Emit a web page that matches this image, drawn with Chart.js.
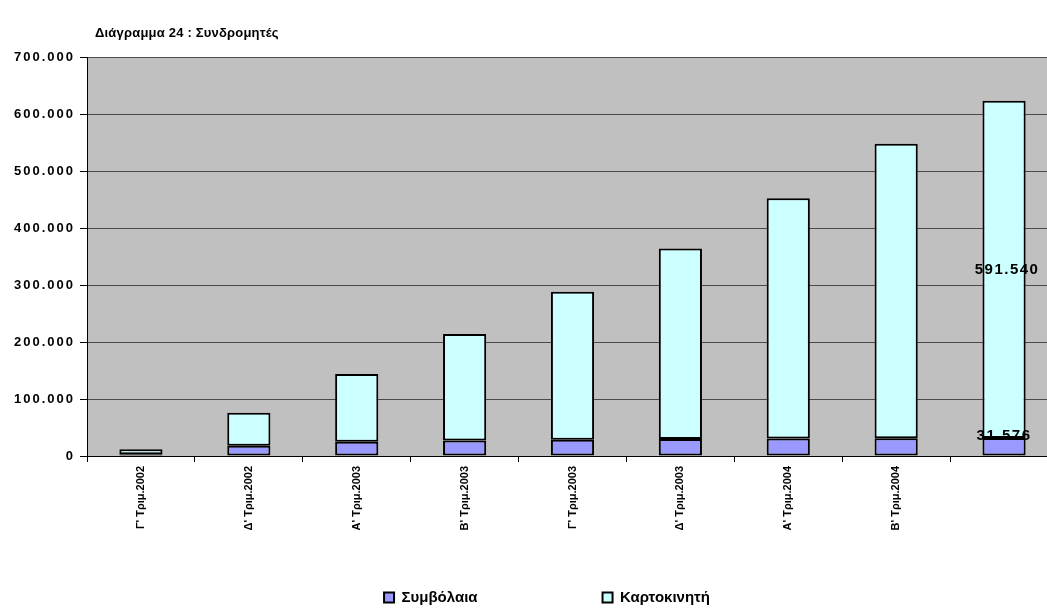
<!DOCTYPE html>
<html lang="el">
<head>
<meta charset="utf-8">
<title>Διάγραμμα 24 : Συνδρομητές</title>
<script src="https://cdn.jsdelivr.net/npm/chart.js@4.4.1/dist/chart.umd.min.js"></script>
<style>
    html, body { margin: 0; padding: 0; background: #fff; overflow: hidden; }
    #wrap { width: 1047px; height: 609px; overflow: hidden; position: relative; }
    #chart { display: block; }
</style>
</head>
<body>
<div id="wrap"><canvas id="chart" width="1062" height="609"></canvas></div>
<script>
/* Διάγραμμα 24 — Συνδρομητές ανά τρίμηνο */
/* global Chart */

var TITLE = 'Διάγραμμα 24 : Συνδρομητές';

var QUARTERS = [
    "Γ' Τριμ.2002", "Δ' Τριμ.2002", "Α' Τριμ.2003", "Β' Τριμ.2003",
    "Γ' Τριμ.2003", "Δ' Τριμ.2003", "Α' Τριμ.2004", "Β' Τριμ.2004", ''
];

// Συμβόλαια (contract) and Καρτοκινητή (prepaid) subscribers
var SYMVOLAIA   = [3000, 18000, 25000, 27000, 28500, 30000, 30500, 31000, 31576];
var KARTOKINITI = [9000, 58000, 119000, 187000, 259500, 334000, 421500, 517000, 591540];

var Y_TICKS = [0, 100000, 200000, 300000, 400000, 500000, 600000, 700000];

(function () {
    'use strict';

    var FONT = "'Liberation Sans', Arial, sans-serif";
    var LEGEND_CX = 547;   // centre of the legend row
    var LEGEND_Y  = 590;   // top of the legend items

    // 700000 -> '700.000'
    function fmt(v) {
        return String(v).replace(/\B(?=(\d{3})+(?!\d))/g, '.');
    }

    // =========================================================
    // Plugins
    // =========================================================
    var plotBackground = {
        id: 'plotBackground',
        beforeDraw: function (chart) {
            var a = chart.chartArea, ctx = chart.ctx;
            ctx.save();
            ctx.fillStyle = '#c0c0c0';
            ctx.fillRect(a.left, a.top, a.right - a.left, a.bottom - a.top);
            ctx.restore();
        }
    };

    // y labels (ticks.z = 1) are drawn after the datasets: space them out a bit
    var tickSpacing = {
        id: 'tickSpacing',
        afterDatasetsDraw: function (chart) {
            chart.ctx.letterSpacing = '2px';
        },
        afterDraw: function (chart) {
            chart.ctx.letterSpacing = '0px';
        }
    };

    var titleText = {
        id: 'titleText',
        afterDraw: function (chart) {
            var ctx = chart.ctx;
            ctx.save();
            ctx.font = 'bold 13px ' + FONT;
            ctx.letterSpacing = '0.2px';
            ctx.fillStyle = '#000';
            ctx.textAlign = 'left';
            ctx.textBaseline = 'alphabetic';
            ctx.fillText(TITLE, 95, 37);
            ctx.restore();
        }
    };

    // the legend takes no room in the layout; move it under the axis labels
    var legendPlacement = {
        id: 'legendPlacement',
        afterLayout: function (chart) {
            var lg = chart.legend;
            var dx = LEGEND_CX - (lg.left + lg.right) / 2;
            lg.left += dx;
            lg.right += dx;
            lg.top = LEGEND_Y - lg.options.labels.padding;
            lg.bottom = chart.height;
        }
    };

    // value labels on the last quarter only
    var lastLabels = {
        id: 'lastLabels',
        afterDatasetsDraw: function (chart) {
            var ctx = chart.ctx;
            var i = QUARTERS.length - 1;
            var barS = chart.getDatasetMeta(0).data[i];
            var barK = chart.getDatasetMeta(1).data[i];
            ctx.save();
            ctx.font = 'bold 15px ' + FONT;
            ctx.letterSpacing = '1.5px';
            ctx.fillStyle = '#000';
            ctx.textAlign = 'center';

            ctx.textBaseline = 'middle';
            ctx.fillText(fmt(KARTOKINITI[i]), barK.x + 3, (barK.y + barK.base) / 2);

            ctx.textBaseline = 'alphabetic';
            ctx.fillText(fmt(SYMVOLAIA[i]), barS.x, barS.y + 2);
            ctx.restore();
        }
    };

    // =========================================================
    // Chart
    // =========================================================
    function barSet(label, data, color) {
        return {
            label: label,
            data: data,
            backgroundColor: color,
            borderColor: '#000',
            borderWidth: 2,
            borderSkipped: false,
            categoryPercentage: 1.0,
            barPercentage: 0.4
        };
    }

    new Chart(document.getElementById('chart'), {
        type: 'bar',
        data: {
            labels: QUARTERS,
            datasets: [
                barSet('Συμβόλαια', SYMVOLAIA, '#9999ff'),
                barSet('Καρτοκινητή', KARTOKINITI, '#ccffff')
            ]
        },
        options: {
            responsive: false,
            animation: false,
            layout: { padding: { left: 0, right: 4, top: 57, bottom: 0 } },
            plugins: {
                title: { display: false },
                tooltip: { enabled: false },
                legend: {
                    position: 'bottom',
                    maxHeight: 1,
                    labels: {
                        boxWidth: 10,
                        boxHeight: 10,
                        padding: 125,
                        color: '#000',
                        font: { family: FONT, size: 15, weight: 'bold' }
                    }
                }
            },
            scales: {
                x: {
                    stacked: true,
                    afterFit: function (scale) { scale.height = 152; },
                    grid: {
                        offset: true,
                        drawOnChartArea: false,
                        drawTicks: true,
                        tickLength: 6,
                        tickColor: '#000'
                    },
                    border: { display: true, color: '#000', width: 1 },
                    ticks: {
                        minRotation: 90,
                        maxRotation: 90,
                        padding: 4,
                        color: '#000',
                        font: { family: FONT, size: 11, weight: 'bold' }
                    }
                },
                y: {
                    stacked: true,
                    min: 0,
                    max: 700000,
                    afterFit: function (scale) { scale.width = 87; },
                    afterBuildTicks: function (scale) {
                        scale.ticks = Y_TICKS.map(function (v) { return { value: v }; });
                    },
                    grid: {
                        color: '#4a4a4a',
                        lineWidth: 1,
                        drawTicks: true,
                        tickLength: 7,
                        tickColor: '#000'
                    },
                    border: { display: true, color: '#000', width: 1 },
                    ticks: {
                        z: 1,
                        padding: 5,
                        color: '#000',
                        font: { family: FONT, size: 13, weight: 'bold' },
                        callback: function (v) { return fmt(v); }
                    }
                }
            }
        },
        plugins: [plotBackground, tickSpacing, titleText, legendPlacement, lastLabels]
    });
}());
</script>
</body>
</html>
